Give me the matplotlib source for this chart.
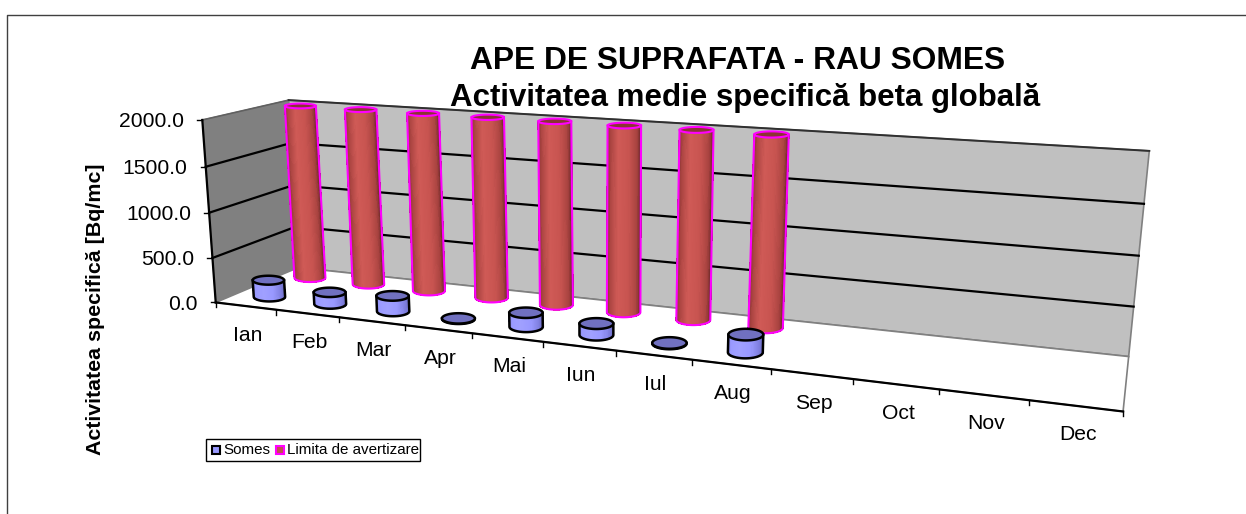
import numpy as np
import matplotlib
matplotlib.use('Agg')
import matplotlib.pyplot as plt
from matplotlib.collections import PolyCollection
from matplotlib.colors import LinearSegmentedColormap
from matplotlib.patches import Polygon, Rectangle

plt.rcParams['font.family'] = ['Liberation Sans', 'DejaVu Sans']

months = ['Ian', 'Feb', 'Mar', 'Apr', 'Mai', 'Iun', 'Iul', 'Aug', 'Sep', 'Oct', 'Nov', 'Dec']
somes = [190, 130, 170, 5, 150, 120, 5, 180]
limita = [2000, 2000, 2000, 2000, 2000, 2000, 2000, 2000]
y_ticks = [0, 500, 1000, 1500, 2000]
y_max = 2000

# calibrare proiectie: colturile cutiei 3D (categorie, adancime, valoare) -> pixeli
corners = [(0, 0, 0), (12, 0, 0), (0, 1, 0), (12, 1, 0), (0, 0, 1), (0, 1, 1), (12, 1, 1)]
pixels = [(218, 302), (1123, 412), (296, 268), (1129, 356), (200, 120), (291, 100), (1149, 151)]

rows = []
rhs = []
for (a, b, c), (u, v) in zip(corners, pixels):
    rows.append([a, b, c, 1, 0, 0, 0, 0, -u * a, -u * b, -u * c])
    rows.append([0, 0, 0, 0, a, b, c, 1, -v * a, -v * b, -v * c])
    rhs += [u, v]
sol = np.linalg.lstsq(np.array(rows, float), np.array(rhs, float), rcond=None)[0]
P = np.append(sol, 1).reshape(3, 4)


def proj(cat, depth, val):
    p = P @ np.array([cat, depth, val / y_max, 1.0])
    return p[0] / p[2], p[1] / p[2]


red_map = LinearSegmentedColormap.from_list('r', ['#6e2a28', '#a84340', '#cf5a56', '#c85450', '#a84340', '#622523'])
blue_map = LinearSegmentedColormap.from_list('b', ['#7878d0', '#9999ff', '#a0a0ff', '#9999ff', '#8080e0', '#6a6ac0'])


def cylinder(ax, cat, depth, val, w, cmap, top_color, edge, z, lw=1.5):
    x0, y0 = proj(cat, depth, 0)
    x1, y1 = proj(cat, depth, val)
    # inaltimea elipsei urmeaza adancimea proiectata in acel punct
    h0 = 0.125 * abs(proj(cat, depth + 0.5, 0)[1] - proj(cat, depth - 0.5, 0)[1])
    h1 = 0.125 * abs(proj(cat, depth + 0.5, val)[1] - proj(cat, depth - 0.5, val)[1])
    t = np.linspace(np.pi, 0, 41)
    polys = []
    for i in range(len(t) - 1):
        polys.append([(x0 + w * np.cos(t[i]), y0 + h0 * np.sin(t[i])),
                      (x0 + w * np.cos(t[i + 1]), y0 + h0 * np.sin(t[i + 1])),
                      (x1 + w * np.cos(t[i + 1]), y1 + h1 * np.sin(t[i + 1])),
                      (x1 + w * np.cos(t[i]), y1 + h1 * np.sin(t[i]))])
    cols = [cmap(i / (len(polys) - 1)) for i in range(len(polys))]
    ax.add_collection(PolyCollection(polys, facecolors=cols, edgecolors=cols, linewidths=0.5,
                                     antialiaseds=False, zorder=z))
    sil = [(x1 - w, y1)] + [(x0 + w * np.cos(a), y0 + h0 * np.sin(a)) for a in t] + [(x1 + w, y1)]
    xs, ys = zip(*sil)
    ax.plot(xs, ys, color=edge, lw=lw, zorder=z + 0.1, solid_joinstyle='round')
    a = np.linspace(0, 2 * np.pi, 61)
    ell = np.column_stack([x1 + w * np.cos(a), y1 + h1 * np.sin(a)])
    ax.add_patch(Polygon(ell, closed=True, facecolor=top_color, edgecolor=edge, lw=lw, zorder=z + 0.2))


fig = plt.figure(figsize=(12.46, 5.14), dpi=100)
ax = fig.add_axes([0, 0, 1, 1])
ax.set_xlim(0, 1246)
ax.set_ylim(514, 0)
ax.axis('off')

# chenar
ax.plot([7, 7, 1246], [514, 14.5, 14.5], color='#404040', lw=1)

# pereti
left_wall = [proj(0, 0, 0), proj(0, 1, 0), proj(0, 1, y_max), proj(0, 0, y_max)]
back_wall = [proj(0, 1, 0), proj(12, 1, 0), proj(12, 1, y_max), proj(0, 1, y_max)]
floor = [proj(0, 0, 0), proj(12, 0, 0), proj(12, 1, 0), proj(0, 1, 0)]
ax.add_patch(Polygon(left_wall, closed=True, fc='#808080', ec='#808080', lw=0.8, zorder=1))
ax.add_patch(Polygon(back_wall, closed=True, fc='#c0c0c0', ec='#808080', lw=1.2, zorder=1))
ax.add_patch(Polygon(floor, closed=True, fc='white', ec='#808080', lw=1.2, zorder=1))

# grile
for v in y_ticks[1:-1]:
    xs, ys = zip(proj(0, 0, v), proj(0, 1, v), proj(12, 1, v))
    ax.plot(xs, ys, color='black', lw=1.6, zorder=2)
xs, ys = zip(proj(0, 0, y_max), proj(0, 1, y_max))
ax.plot(xs, ys, color='#606060', lw=1.2, zorder=2)
xs, ys = zip(proj(0, 1, y_max), proj(12, 1, y_max))
ax.plot(xs, ys, color='#303030', lw=1.4, zorder=2)

# axe
xs, ys = zip(proj(0, 0, 0), proj(0, 0, y_max))
ax.plot(xs, ys, color='black', lw=1.6, zorder=3)
xs, ys = zip(proj(0, 0, 0), proj(12, 0, 0))
ax.plot(xs, ys, color='black', lw=1.6, zorder=3)
for v in y_ticks:
    x, y = proj(0, 0, v)
    ax.plot([x - 5, x], [y, y], color='black', lw=1, zorder=3)
    ax.text(x - 18, y + 2, f'{v:.1f}', ha='right', va='center', fontsize=15.2, color='black')
for i in range(len(months) + 1):
    x, y = proj(i, 0, 0)
    ax.plot([x, x], [y, y + 5], color='black', lw=1, zorder=3)
for i, m in enumerate(months):
    x, y = proj(i + 0.5, 0, 0)
    ax.text(x + 2, y + 29, m, ha='center', va='center', fontsize=15.2, color='black')

# cilindri
for i, v in enumerate(limita):
    cylinder(ax, i + 0.5, 0.78, v, 15.5 + 0.25 * i, red_map, '#8a3432', '#ff00ff', 10 + i)
for i, v in enumerate(somes):
    cylinder(ax, i + 0.535, 0.25, v, 15.7 + 0.25 * i, blue_map, '#7070c0', 'black', 30 + i, lw=1.8)

# titlu
ax.text(738, 61, 'APE DE SUPRAFATA - RAU SOMES', ha='center', va='center', fontsize=22.9, fontweight='bold')
ax.text(745, 98, 'Activitatea medie specifică beta globală', ha='center', va='center', fontsize=22.5, fontweight='bold')
ax.text(96, 309, 'Activitatea specifică [Bq/mc]', rotation=90, ha='center', va='center', fontsize=15.4, fontweight='bold')

# legenda
ax.add_patch(Rectangle((206, 438.5), 214, 22.5, fc='white', ec='black', lw=1, zorder=5))
ax.add_patch(Rectangle((212, 446), 8, 8, fc='#9999ff', ec='black', lw=1.5, zorder=6))
ax.text(223, 450, 'Somes', ha='left', va='center', fontsize=10.9, zorder=6)
ax.add_patch(Rectangle((276, 446), 8, 8, fc='#c0504d', ec='#ff00ff', lw=1.5, zorder=6))
ax.text(287, 450, 'Limita de avertizare', ha='left', va='center', fontsize=10.9, zorder=6)

fig.savefig('out.png', dpi=100)
